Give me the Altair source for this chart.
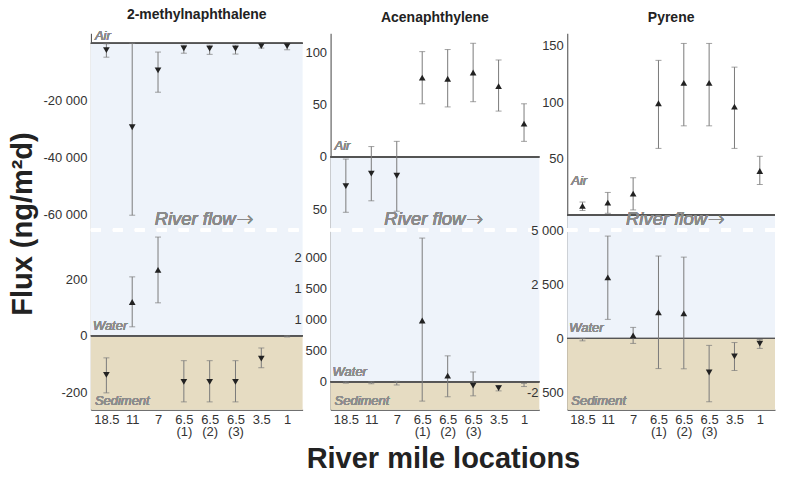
import altair as alt
import pandas as pd

locations = ["18.5", "11", "7", "6.5 (1)", "6.5 (2)", "6.5 (3)", "3.5", "1"]
compounds = ["2-methylnaphthalene", "Acenaphthylene", "Pyrene"]

# 2-methylnaphthalene
mn_air_mean = [-2400, -29500, -9500, -1800, -1900, -1900, -1000, -1000]
mn_air_low = [-4900, -60400, -17200, -3500, -3900, -3800, -1700, -2300]
mn_air_high = [-200, 0, -3100, -700, -700, -700, -100, -300]
mn_air_dir = ["down"] * 8
mn_ws_mean = [-138, 120, 234, -163, -163, -163, -81, -2]
mn_ws_low = [-202, 32, 117, -234, -234, -234, -113, -4]
mn_ws_high = [-78, 209, 350, -88, -88, -88, -43, 0]
mn_ws_dir = ["down", "up", "up", "down", "down", "down", "down", "none"]

# Acenaphthylene
ac_air_mean = [-28, -16, -18, 76, 75, 81, 68, 32]
ac_air_low = [-53, -42, -52, 51, 48, 53, 44, 15]
ac_air_high = [-2, 10, 15, 101, 103, 109, 93, 51]
ac_air_dir = ["down", "down", "down", "up", "up", "up", "up", "up"]
ac_ws_mean = [-10, -15, -20, 990, 100, -60, -100, -50]
ac_ws_low = [-20, -30, -50, -310, -240, -225, -145, -75]
ac_ws_high = [0, 0, 10, 2320, 420, 160, -60, -25]
ac_ws_dir = ["none", "none", "none", "up", "up", "down", "down", "none"]

# Pyrene
py_air_mean = [8, 11, 19, 99, 117, 117, 96, 39]
py_air_low = [4, 1.5, 4.5, 59, 79, 79, 59, 27]
py_air_high = [11.5, 20, 33, 137, 152, 152, 131, 52]
py_air_dir = ["up"] * 8
py_ws_mean = [-60, 2820, 140, 1200, 1160, -1570, -830, -240]
py_ws_low = [-110, 880, -230, -1390, -1400, -2920, -1480, -460]
py_ws_high = [-10, 4720, 510, 3800, 3750, -320, -190, -50]
py_ws_dir = ["none", "up", "up", "up", "up", "down", "down", "down"]

# axis domains and ticks
mn_air_domain = [-65600, 3500]
mn_ws_domain = [-262, 375]
ac_air_domain = [-70, 118.6]
ac_ws_domain = [-450, 2450]
py_air_domain = [-13.3, 161]
py_ws_domain = [-3290, 5000]
mn_air_ticks = [-60000, -40000, -20000]
mn_ws_ticks = [-200, 0, 200]
ac_air_ticks = [-50, 0, 50, 100]
ac_ws_ticks = [0, 500, 1000, 1500, 2000]
py_air_ticks = [50, 100, 150]
py_ws_ticks = [-2500, 0, 2500, 5000]

FONT = "Liberation Sans"
BLUE = "#eef3fa"
TAN = "#e6dcc2"
TOP_H = 197
BOT_H = 180
WIDTHS = [212, 209, 208]

LABEL_STD = "(datum.value < 0 ? '-' : '') + replace(format(abs(datum.value), ','), ',', ' ')"
LABEL_ABS = "replace(format(abs(datum.value), ','), ',', ' ')"


def make_panel(mean, low, high, dirs, domain, ticks, width, height, row,
               label_expr, air_y=None, x_title=None, title=None, flow_cx=0):
    df = pd.DataFrame({"loc": locations, "mean": mean, "lo": low, "hi": high, "dir": dirs})
    yscale = alt.Scale(domain=domain, nice=False, zero=False)
    yaxis = alt.Axis(values=ticks, labelExpr=label_expr, title=None, grid=False, ticks=False,
                     labelPadding=4, labelFontSize=13, labelColor="#333", domainColor="#444",
                     labelFont=FONT)
    xscale = alt.Scale(type="point", padding=0.6)
    if row == "top":
        xaxis = None
    else:
        xkw = dict(labelExpr="split(datum.label, ' ')", labelAngle=0, ticks=False,
                   labelPadding=4, labelFontSize=13, labelColor="#333", domainColor="#444",
                   labelLineHeight=12, grid=False, labelFont=FONT, title=x_title)
        if x_title:
            xkw.update(titleFontSize=29, titleFontWeight="bold", titleColor="#222",
                       titlePadding=6, titleFont=FONT, titleX=width / 2 + 8)
        xaxis = alt.Axis(**xkw)
    x = alt.X("loc:N", sort=locations, scale=xscale, axis=xaxis)

    if row == "top":
        bands = pd.DataFrame({"a": [0], "b": [domain[0]], "c": ["blue"]})
    else:
        bands = pd.DataFrame({"a": [0, 0], "b": [domain[1], domain[0]], "c": ["blue", "tan"]})
    bg = alt.Chart(bands).mark_rect().encode(
        x=alt.value(0), x2=alt.value(width),
        y=alt.Y("a:Q", scale=yscale, axis=yaxis), y2="b:Q",
        color=alt.Color("c:N", scale=alt.Scale(domain=["blue", "tan"], range=[BLUE, TAN]), legend=None),
    )
    zero = alt.Chart(df).mark_rule(color="#555", strokeWidth=1).encode(
        y=alt.datum(0), x=alt.value(0), x2=alt.value(width))
    bars = alt.Chart(df).mark_rule(color="#7a7a7a", strokeWidth=1).encode(
        x=x, y=alt.Y("lo:Q", scale=yscale, axis=yaxis), y2="hi:Q")
    cap_lo = alt.Chart(df).mark_tick(color="#7a7a7a", size=6, thickness=1).encode(
        x=x, y=alt.Y("lo:Q", scale=yscale, axis=yaxis))
    cap_hi = alt.Chart(df).mark_tick(color="#7a7a7a", size=6, thickness=1).encode(
        x=x, y=alt.Y("hi:Q", scale=yscale, axis=yaxis))
    pts = alt.Chart(df).transform_filter("datum.dir != 'none'").mark_point(
        filled=True, size=45, opacity=1, color="#222").encode(
        x=x, y=alt.Y("mean:Q", scale=yscale, axis=yaxis),
        shape=alt.Shape("dir:N", scale=alt.Scale(domain=["up", "down"],
                                                  range=["triangle-up", "triangle-down"]), legend=None))
    layers = [bg, zero, bars, cap_lo, cap_hi, pts]
    lab = dict(font=FONT, fontStyle="italic", color="#8c8c8c", fontSize=13, align="left")
    if row == "top":
        layers.append(alt.Chart(df).mark_text(baseline="bottom", **lab).encode(
            x=alt.value(4), y=alt.value(air_y), text=alt.value("Air")))
        layers.append(alt.Chart(df).mark_text(
            font=FONT, fontStyle="italic", color="#8a8a8a", fontSize=18.5, align="right",
            baseline="middle").encode(
            x=alt.value(flow_cx + 29), y=alt.value(height - 11), text=alt.value("River flow")))
        layers.append(alt.Chart(df).mark_text(
            font="DejaVu Sans", color="#8a8a8a", fontSize=20, align="left", fontWeight=200,
            baseline="middle").encode(
            x=alt.value(flow_cx + 30), y=alt.value(height - 10), text=alt.value("\u2192")))
    else:
        layers.append(alt.Chart(df).mark_text(baseline="bottom", dy=-3, **lab).encode(
            x=alt.value(2), y=alt.datum(0), text=alt.value("Water")))
        layers.append(alt.Chart(df).mark_text(baseline="bottom", **lab).encode(
            x=alt.value(4), y=alt.value(height - 2), text=alt.value("Sediment")))
        layers.append(alt.Chart(df).mark_rule(color="white", strokeWidth=3, strokeDash=[10, 12]).encode(
            x=alt.value(0), x2=alt.value(width), y=alt.value(0)))
    props = dict(width=width, height=height)
    if title is not None:
        props["title"] = alt.TitleParams(title, fontSize=14, fontWeight="bold", color="#222",
                                         font=FONT, offset=8, anchor="middle")
    return alt.layer(*layers).properties(**props)


tops, bots = [], []
specs = [
    (mn_air_mean, mn_air_low, mn_air_high, mn_air_dir, mn_air_domain, mn_air_ticks,
     mn_ws_mean, mn_ws_low, mn_ws_high, mn_ws_dir, mn_ws_domain, mn_ws_ticks, LABEL_STD, 10, None, 116),
    (ac_air_mean, ac_air_low, ac_air_high, ac_air_dir, ac_air_domain, ac_air_ticks,
     ac_ws_mean, ac_ws_low, ac_ws_high, ac_ws_dir, ac_ws_domain, ac_ws_ticks, LABEL_ABS, 120,
     "River mile locations", 106),
    (py_air_mean, py_air_low, py_air_high, py_air_dir, py_air_domain, py_air_ticks,
     py_ws_mean, py_ws_low, py_ws_high, py_ws_dir, py_ws_domain, py_ws_ticks, LABEL_STD, 155, None, 111),
]
for i, s in enumerate(specs):
    (am, al, ah, ad, adom, at, wm, wl, wh, wd, wdom, wt, aexpr, air_y, xt, fcx) = s
    tops.append(make_panel(am, al, ah, ad, adom, at, WIDTHS[i], TOP_H, "top", aexpr,
                           air_y=air_y, title=compounds[i], flow_cx=fcx))
    bots.append(make_panel(wm, wl, wh, wd, wdom, wt, WIDTHS[i], BOT_H, "bottom", LABEL_STD, x_title=xt))

chart = alt.concat(*tops, *bots, columns=3, bounds="flush",
                   spacing=alt.RowColnumber(row=0, column=28)).properties(
    padding=0,
    title=alt.TitleParams("Flux (ng/m\u00b2d)", orient="left", anchor="middle", dx=17,
                          fontSize=29, fontWeight="bold", color="#222", font=FONT, offset=5),
).configure_view(stroke=None).configure_axis(labelFont=FONT)

chart.save("out.html", embed_options={"renderer": "svg", "actions": False})
